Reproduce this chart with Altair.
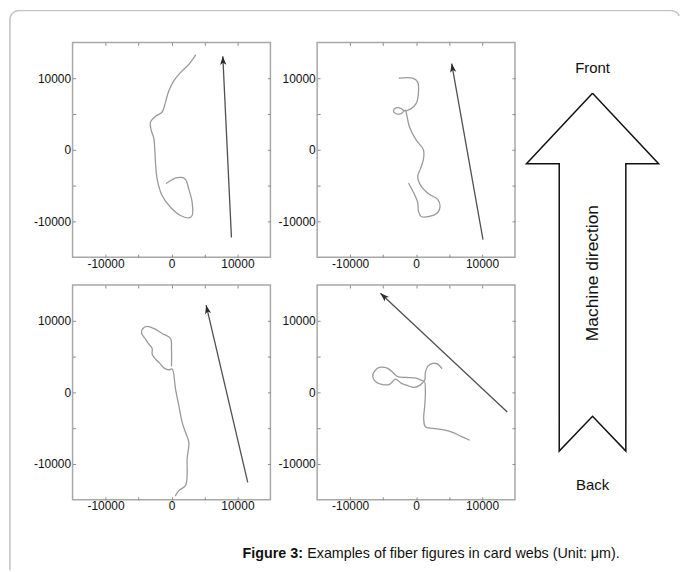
import math
import altair as alt
import pandas as pd

FONT = "Liberation Sans"

# Fiber traces (µm), one per panel, listed from one fiber end to the other
fiber1_x = [3640, 2630, 1360, 350, -400, -910, -1410, -2420, -3180, -3080, -2680, -2530,
            -2420, -2170, -1410, -150, 1360, 2630, 3130, 3130, 2630, 2020, 860, -760]
fiber1_y = [13220, 11930, 10790, 9640, 8260, 6660, 5280, 4680, 3900, 2750, 1610, 0,
            -1840, -4130, -6430, -8030, -9180, -9500, -9180, -7340, -5510, -4040, -3900, -4680]

fiber2_x = [-2530, -505, 250, 350, 0, -760, -1770, -2270, -3030, -3430, -3130, -2270, -1620,
            -1410, -1010, 0, 1110, 1110, 610, 250, 760, 2020, 3280, 3640, 3280, 2020, 760,
            350, 250, -250, -1110]
fiber2_y = [10000, 10000, 9450, 7840, 6450, 5760, 5440, 5760, 5850, 5440, 5070, 5070, 5530,
            4840, 3230, 1380, 0, -1380, -2770, -3690, -5070, -6220, -6920, -7840, -8760, -9310,
            -9310, -8530, -7380, -6220, -4700]

fiber3_x = [610, 1110, 2120, 2370, 2370, 2630, 2120, 1620, 1110, 610, 100, -400, -1060, -1670,
            -2420, -2930, -2930, -3430, -3940, -4550, -4340, -3690, -2680, -1410, -150, 0, 0]
fiber3_y = [-14420, -13720, -13020, -11630, -9300, -6980, -5580, -4190, -1860, 470, 3260, 3160,
            3350, 3950, 4650, 5350, 6140, 6740, 7440, 8280, 8930, 9210, 8930, 8230, 7530, 6050, 3720]

fiber4_x = [3890, 3280, 2530, 1770, 1410, 1260, 0, -1520, -2780, -3530, -4290, -5550, -6260,
            -6570, -6160, -5050, -3940, -3130, -2270, -1260, -250, 610, 1260, 1410, 1310, 1160,
            1410, 2530, 4040, 5550, 6820, 8080]
fiber4_y = [3350, 3950, 4050, 3630, 2790, 1630, 2000, 2090, 2190, 2790, 3350, 3490, 3020,
            2230, 1530, 1070, 1160, 1860, 1300, 930, 700, 1020, 1490, 0, -1860, -3720,
            -4790, -5020, -5210, -5580, -6140, -6650]

# Fiber orientation vectors: [tail, head]
vec1_x, vec1_y = [9090, 7780], [-12260, 13080]
vec2_x, vec2_y = [10150, 5400], [-12560, 12050]
vec3_x, vec3_y = [11560, 5250], [-12560, 12180]
vec4_x, vec4_y = [13830, -5400], [-2750, 13850]

SPAN = [-15000, 15000]
TICKS = [-10000, -5000, 0, 5000, 10000]
TICK_LABELS = "abs(datum.value) == 5000 ? '' : '' + datum.value"

# Block arrow outline showing the machine direction (units: px, 0 = bottom of lower row)
md_x = [0, 66.5, 33.5, 33.5, 0, -33.5, -33.5, -66.5, 0]
md_y = [409, 338, 338, 49, 84, 49, 338, 338, 409]
md_labels = ["Front", "Back"]
md_label_y = [434, 15]
md_title = "Machine direction"

caption_lead = "Figure 3:"
caption_body = "Examples of fiber figures in card webs (Unit: μm)."

W, H = 199, 216
GAP_COL, GAP_ROW = 47, 28
HEAD = "M0,0 L0.55,1.55 L0,1.15 L-0.55,1.55 Z"


def frame_axis(orient, labels):
    kw = dict(orient=orient, values=TICKS, tickSize=3, offset=-3, domain=False, grid=False,
              tickColor="#8a8a8a", tickWidth=1, title=None)
    if labels:
        kw.update(labelExpr=TICK_LABELS, labelFont=FONT, labelFontSize=12, labelColor="#111",
                  labelPadding=2 if orient == "left" else 1)
    else:
        kw.update(labels=False)
    return alt.Axis(**kw)


def panel(fx, fy, vx, vy):
    fiber_df = pd.DataFrame({"x": fx, "y": fy, "i": list(range(len(fx)))})
    vec_df = pd.DataFrame({"x": vx, "y": vy, "i": [0, 1]})
    dx = (vx[1] - vx[0]) * W / (SPAN[1] - SPAN[0])
    dy = (vy[1] - vy[0]) * H / (SPAN[1] - SPAN[0])
    ang = math.degrees(math.atan2(dx, dy)) % 360
    head_df = pd.DataFrame({"x": [vx[1]], "y": [vy[1]], "a": [ang]})

    def sc():
        return alt.Scale(domain=SPAN, nice=False, zero=False)

    xb = alt.X("x:Q", scale=sc(), axis=frame_axis("bottom", True))
    yl = alt.Y("y:Q", scale=sc(), axis=frame_axis("left", True))
    xt = alt.X("x:Q", scale=sc(), axis=frame_axis("top", False))
    yr = alt.Y("y:Q", scale=sc(), axis=frame_axis("right", False))

    fiber = alt.Chart(fiber_df).mark_line(
        color="#9a9a9a", strokeWidth=1.3, interpolate="catmull-rom", strokeCap="round"
    ).encode(x=xb, y=yl, order="i:Q")
    shaft = alt.Chart(vec_df).mark_line(color="#505050", strokeWidth=1.3).encode(
        x=xt, y=yr, order="i:Q")
    head = alt.Chart(head_df).mark_point(
        shape=HEAD, filled=True, size=130, color="#2a2a2a", opacity=1, strokeWidth=0
    ).encode(x=xt, y=yr, angle=alt.Angle("a:Q", scale=None))

    return alt.layer(fiber, alt.layer(shaft, head)).resolve_scale(
        x="independent", y="independent"
    ).properties(width=W, height=H,
                 view=alt.ViewBackground(stroke="#a8a8a8", strokeWidth=1.5))


p1 = panel(fiber1_x, fiber1_y, vec1_x, vec1_y)
p2 = panel(fiber2_x, fiber2_y, vec2_x, vec2_y)
p3 = panel(fiber3_x, fiber3_y, vec3_x, vec3_y)
p4 = panel(fiber4_x, fiber4_y, vec4_x, vec4_y)

# Machine-direction block arrow: its cell sits in the upper row, the drawing runs down
# past it through the lower row (marks are not clipped)
AH = 2 * H + GAP_ROW
ax_x = alt.X("x:Q", scale=alt.Scale(domain=[-31, 69], nice=False, zero=False), axis=None)
ax_y = alt.Y("y:Q", scale=alt.Scale(domain=[AH - H, AH], nice=False, zero=False), axis=None)
md_df = pd.DataFrame({"x": md_x, "y": md_y, "i": list(range(len(md_x)))})
outline = alt.Chart(md_df).mark_line(color="#111", strokeWidth=1.5, strokeJoin="miter").encode(
    x=ax_x, y=ax_y, order="i:Q")
ends = alt.Chart(pd.DataFrame({"t": md_labels, "x": [0, 0], "y": md_label_y})).mark_text(
    font=FONT, fontSize=15, color="#111", align="center", baseline="middle"
).encode(x=ax_x, y=ax_y, text="t:N")
md_text = alt.Chart(pd.DataFrame({"t": [md_title], "x": [0], "y": [228]})).mark_text(
    font=FONT, fontSize=17.5, color="#111", align="center", baseline="middle", angle=270
).encode(x=ax_x, y=ax_y, text="t:N")

# Caption and the page frame, placed in pixels from the arrow cell's origin
fr_x, fr_y = [-555], [531]
for k in range(0, 10):
    t = math.radians(180 + 90 * k / 9)
    fr_x.append(-546 + 9 * math.cos(t))
    fr_y.append(-23 + 9 * math.sin(t))
for k in range(0, 8):
    t = math.radians(-90 + 65 * k / 7)
    fr_x.append(110 + 9 * math.cos(t))
    fr_y.append(-23 + 9 * math.sin(t))
frame_df = pd.DataFrame({"px": fr_x, "py": fr_y, "k": list(range(len(fr_x)))})
frame = alt.Chart(frame_df).mark_line(color="#c2c2c2", strokeWidth=1.5).encode(
    x=alt.X("px:Q", scale=None, axis=None),
    y=alt.Y("py:Q", scale=None, axis=None),
    order="k:Q",
)
cap_df = pd.DataFrame({"lead": [caption_lead], "body": [caption_body]})
lead = alt.Chart(cap_df).mark_text(
    font=FONT, fontSize=14.4, fontWeight="bold", color="#111", align="left", baseline="middle"
).encode(x=alt.value(-321), y=alt.value(515), text="lead:N")
body = alt.Chart(cap_df).mark_text(
    font=FONT, fontSize=14.4, color="#111", align="left", baseline="middle"
).encode(x=alt.value(-256), y=alt.value(515), text="body:N")

md_chart = alt.layer(frame, outline, ends, md_text, lead, body).properties(
    width=100, height=H, view=alt.ViewBackground(strokeWidth=0))

chart = alt.concat(
    p1, p2, md_chart, p3, p4,
    columns=3, spacing={"row": GAP_ROW, "column": GAP_COL}, bounds="flush",
).properties(
    padding={"left": 7, "top": 6, "right": 0, "bottom": 0},
    background="white",
).configure_view(strokeWidth=0)

chart.save("out.html", embed_options={"renderer": "svg", "actions": False})
